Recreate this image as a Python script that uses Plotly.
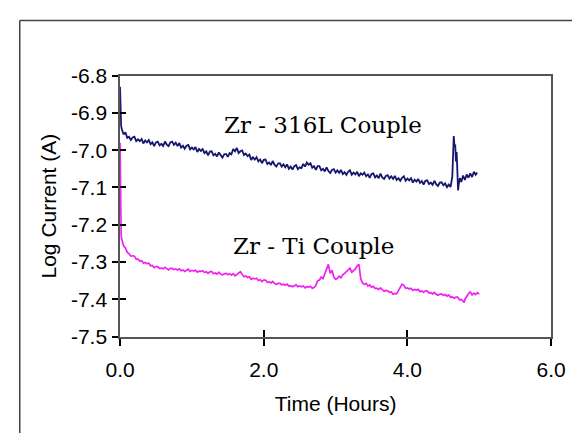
import plotly.graph_objects as go

# ---- data ----
t_316 = [0.0, 0.005, 0.01, 0.015,
         0.025, 0.05, 0.075, 0.1, 0.125, 0.15, 0.175, 0.2, 0.225, 0.25,
         0.275, 0.3, 0.325, 0.35, 0.375, 0.4, 0.425, 0.45, 0.475, 0.5,
         0.525, 0.55, 0.575, 0.6, 0.625, 0.65, 0.675, 0.7, 0.725, 0.75,
         0.775, 0.8, 0.825, 0.85, 0.875, 0.9, 0.925, 0.95, 0.975, 1.0,
         1.025, 1.05, 1.075, 1.1, 1.125, 1.15, 1.175, 1.2, 1.225, 1.25,
         1.275, 1.3, 1.325, 1.35, 1.375, 1.4, 1.425, 1.45, 1.475, 1.5,
         1.525, 1.55, 1.575, 1.6, 1.625, 1.65, 1.675, 1.7, 1.725, 1.75,
         1.775, 1.8, 1.825, 1.85, 1.875, 1.9, 1.925, 1.95, 1.975, 2.0,
         2.025, 2.05, 2.075, 2.1, 2.125, 2.15, 2.175, 2.2, 2.225, 2.25,
         2.275, 2.3, 2.325, 2.35, 2.375, 2.4, 2.425, 2.45, 2.475, 2.5,
         2.525, 2.55, 2.575, 2.6, 2.625, 2.65, 2.675, 2.7, 2.725, 2.75,
         2.775, 2.8, 2.825, 2.85, 2.875, 2.9, 2.925, 2.95, 2.975, 3.0,
         3.025, 3.05, 3.075, 3.1, 3.125, 3.15, 3.175, 3.2, 3.225, 3.25,
         3.275, 3.3, 3.325, 3.35, 3.375, 3.4, 3.425, 3.45, 3.475, 3.5,
         3.525, 3.55, 3.575, 3.6, 3.625, 3.65, 3.675, 3.7, 3.725, 3.75,
         3.775, 3.8, 3.825, 3.85, 3.875, 3.9, 3.925, 3.95, 3.975, 4.0,
         4.025, 4.05, 4.075, 4.1, 4.125, 4.15, 4.175, 4.2, 4.225, 4.25,
         4.275, 4.3, 4.325, 4.35, 4.375, 4.4, 4.425, 4.45, 4.475, 4.5,
         4.525, 4.55, 4.575, 4.6,
         4.615, 4.625, 4.645, 4.655, 4.665, 4.675, 4.685, 4.695, 4.705, 4.715, 4.73,
         4.75, 4.775, 4.8, 4.825, 4.85, 4.875, 4.9, 4.925, 4.95, 4.97]
i_316 = [-6.830, -6.880, -6.915, -6.935,
         -6.944, -6.958, -6.952, -6.967, -6.964, -6.973, -6.966, -6.964, -6.976, -6.971,
         -6.976, -6.970, -6.982, -6.974, -6.979, -6.973, -6.984, -6.979, -6.989, -6.979,
         -6.977, -6.987, -6.983, -6.989, -6.977, -6.985, -6.989, -6.979, -6.977, -6.986,
         -6.980, -6.989, -6.981, -6.993, -6.988, -6.996, -6.988, -6.986, -6.998, -6.993,
         -6.998, -6.992, -7.005, -6.997, -7.002, -6.997, -7.008, -7.003, -7.014, -7.004,
         -7.003, -7.014, -7.010, -7.017, -7.006, -7.015, -7.020, -7.011, -7.010, -7.018,
         -7.008, -7.011, -6.997, -7.003, -6.994, -7.008, -7.003, -7.001, -7.013, -7.009,
         -7.016, -7.012, -7.026, -7.019, -7.025, -7.019, -7.030, -7.025, -7.035, -7.026,
         -7.025, -7.037, -7.033, -7.040, -7.029, -7.039, -7.044, -7.036, -7.035, -7.044,
         -7.038, -7.046, -7.038, -7.050, -7.044, -7.052, -7.043, -7.040, -7.051, -7.046,
         -7.048, -7.037, -7.044, -7.033, -7.039, -7.035, -7.047, -7.043, -7.053, -7.043,
         -7.043, -7.054, -7.050, -7.057, -7.046, -7.056, -7.061, -7.053, -7.051, -7.060,
         -7.054, -7.061, -7.053, -7.064, -7.059, -7.066, -7.058, -7.054, -7.066, -7.060,
         -7.065, -7.058, -7.070, -7.062, -7.066, -7.060, -7.070, -7.065, -7.074, -7.064,
         -7.062, -7.073, -7.068, -7.075, -7.063, -7.073, -7.077, -7.069, -7.067, -7.076,
         -7.070, -7.077, -7.069, -7.080, -7.075, -7.082, -7.074, -7.070, -7.082, -7.076,
         -7.081, -7.075, -7.087, -7.079, -7.084, -7.077, -7.088, -7.083, -7.092, -7.082,
         -7.081, -7.091, -7.087, -7.093, -7.082, -7.091, -7.096, -7.087, -7.086, -7.094,
         -7.089, -7.099, -7.092, -7.099,
         -7.085, -7.070, -6.962, -6.990, -6.985, -7.030, -7.005, -7.060, -7.108, -7.090, -7.075,
         -7.085, -7.068, -7.080, -7.065, -7.074, -7.062, -7.072, -7.058, -7.066, -7.060]

t_ti = [0.0, 0.003, 0.006, 0.01, 0.015, 0.02,
        0.025, 0.05, 0.075, 0.1, 0.125, 0.15, 0.175, 0.2, 0.225, 0.25,
        0.275, 0.3, 0.325, 0.35, 0.375, 0.4, 0.425, 0.45, 0.475, 0.5,
        0.525, 0.55, 0.575, 0.6, 0.625, 0.65, 0.675, 0.7, 0.725, 0.75,
        0.775, 0.8, 0.825, 0.85, 0.875, 0.9, 0.925, 0.95, 0.975, 1.0,
        1.025, 1.05, 1.075, 1.1, 1.125, 1.15, 1.175, 1.2, 1.225, 1.25,
        1.275, 1.3, 1.325, 1.35, 1.375, 1.4, 1.425, 1.45, 1.475, 1.5,
        1.525, 1.55, 1.575, 1.6, 1.625, 1.65, 1.675, 1.7, 1.725, 1.75,
        1.775, 1.8, 1.825, 1.85, 1.875, 1.9, 1.925, 1.95, 1.975, 2.0,
        2.025, 2.05, 2.075, 2.1, 2.125, 2.15, 2.175, 2.2, 2.225, 2.25,
        2.275, 2.3, 2.325, 2.35, 2.375, 2.4, 2.425, 2.45, 2.475, 2.5,
        2.525, 2.55, 2.575, 2.6, 2.625, 2.65, 2.675, 2.7, 2.725, 2.75,
        2.775, 2.8, 2.825, 2.85, 2.875, 2.9, 2.925, 2.95, 2.975, 3.0,
        3.025, 3.05, 3.075, 3.1, 3.125, 3.15, 3.175, 3.2, 3.225, 3.25,
        3.275, 3.3, 3.325, 3.35, 3.375, 3.4, 3.425, 3.45, 3.475, 3.5,
        3.525, 3.55, 3.575, 3.6, 3.625, 3.65, 3.675, 3.7, 3.725, 3.75,
        3.775, 3.8, 3.825, 3.85, 3.875, 3.9, 3.925, 3.95, 3.975, 4.0,
        4.025, 4.05, 4.075, 4.1, 4.125, 4.15, 4.175, 4.2, 4.225, 4.25,
        4.275, 4.3, 4.325, 4.35, 4.375, 4.4, 4.425, 4.45, 4.475, 4.5,
        4.525, 4.55, 4.575, 4.6, 4.625, 4.65, 4.675, 4.7, 4.725, 4.75,
        4.775, 4.79, 4.8, 4.825, 4.85, 4.875, 4.9, 4.925, 4.95, 4.975, 5.0]
i_ti = [-6.980, -7.080, -7.150, -7.200, -7.225, -7.236,
        -7.241, -7.257, -7.262, -7.274, -7.277, -7.284, -7.283, -7.284, -7.292, -7.292,
        -7.297, -7.296, -7.303, -7.301, -7.304, -7.303, -7.310, -7.309, -7.315, -7.312,
        -7.312, -7.317, -7.316, -7.318, -7.314, -7.318, -7.321, -7.317, -7.317, -7.320,
        -7.318, -7.321, -7.318, -7.323, -7.321, -7.325, -7.321, -7.319, -7.325, -7.322,
        -7.324, -7.322, -7.327, -7.324, -7.325, -7.323, -7.328, -7.326, -7.330, -7.326,
        -7.325, -7.331, -7.329, -7.332, -7.327, -7.332, -7.334, -7.331, -7.330, -7.334,
        -7.331, -7.335, -7.331, -7.337, -7.333, -7.330, -7.326, -7.333, -7.339, -7.337,
        -7.341, -7.339, -7.346, -7.343, -7.345, -7.343, -7.349, -7.347, -7.352, -7.348,
        -7.348, -7.354, -7.353, -7.356, -7.352, -7.357, -7.360, -7.357, -7.357, -7.361,
        -7.359, -7.362, -7.359, -7.364, -7.363, -7.366, -7.363, -7.361, -7.366, -7.364,
        -7.366, -7.364, -7.369, -7.366, -7.367, -7.365, -7.370, -7.368, -7.363, -7.350,
        -7.348, -7.340, -7.344, -7.332, -7.315, -7.306, -7.330, -7.322, -7.340, -7.346,
        -7.344, -7.338, -7.342, -7.334, -7.330, -7.326, -7.320, -7.316, -7.327, -7.322,
        -7.318, -7.310, -7.306, -7.345, -7.356, -7.360, -7.357, -7.364, -7.361, -7.367,
        -7.365, -7.371, -7.370, -7.373, -7.369, -7.374, -7.378, -7.376, -7.377, -7.381,
        -7.380, -7.386, -7.384, -7.385, -7.375, -7.369, -7.359, -7.362, -7.370, -7.369,
        -7.372, -7.370, -7.376, -7.373, -7.375, -7.373, -7.379, -7.377, -7.381, -7.377,
        -7.377, -7.383, -7.382, -7.385, -7.381, -7.386, -7.389, -7.386, -7.385, -7.389,
        -7.387, -7.391, -7.388, -7.394, -7.393, -7.397, -7.394, -7.394, -7.401, -7.400,
        -7.404, -7.408, -7.400, -7.392, -7.384, -7.380, -7.388, -7.383, -7.387, -7.382, -7.386]

labels = ["Zr - 316L Couple", "Zr - Ti Couple"]
label_x = [2.83, 2.69]
label_y = [-6.932, -7.256]

x_ticks = [0.0, 2.0, 4.0, 6.0]
x_ticktext = ["0.0", "2.0", "4.0", "6.0"]
y_ticks = [-6.8, -6.9, -7.0, -7.1, -7.2, -7.3, -7.4, -7.5]
y_ticktext = ["-6.8", "-6.9", "-7.0", "-7.1", "-7.2", "-7.3", "-7.4", "-7.5"]

W, H = 587, 444
AX = "#555555"

fig = go.Figure()
fig.add_trace(go.Scatter(x=t_316, y=i_316, mode="lines",
                         line=dict(color="#16166e", width=1.8), showlegend=False))
fig.add_trace(go.Scatter(x=t_ti, y=i_ti, mode="lines",
                         line=dict(color="#f020f0", width=1.7), showlegend=False))
# invisible trace so the overlay axes (inner halves of the crossing ticks) render
fig.add_trace(go.Scatter(x=[0], y=[-7.5], xaxis="x2", yaxis="y2", mode="markers",
                         marker=dict(opacity=0), hoverinfo="skip", showlegend=False))

for txt, lx, ly in zip(labels, label_x, label_y):
    fig.add_annotation(x=lx, y=ly, text=txt, showarrow=False,
                       font=dict(family="DejaVu Serif", size=23, color="black"),
                       xanchor="center", yanchor="middle")

xdom = [110.7 / W, 565 / W]
ydom = [(H - 342.5) / H, (H - 67) / H]
tickfont = dict(family="Liberation Sans, Arial", size=21, color="black")

fig.update_layout(
    width=W, height=H, margin=dict(l=0, r=0, t=0, b=0),
    paper_bgcolor="white", plot_bgcolor="white",
    xaxis=dict(domain=xdom, range=[0, 6], tickvals=x_ticks, ticktext=x_ticktext,
               ticks="outside", ticklen=7, tickcolor="black", tickwidth=1.5,
               showline=True, linecolor=AX, linewidth=1.5, mirror=True,
               showgrid=False, zeroline=False, tickfont=tickfont,
               ticklabelstandoff=6,
               title=dict(text="Time (Hours)", font=tickfont, standoff=17)),
    yaxis=dict(domain=ydom, range=[-7.5, -6.8], tickvals=y_ticks, ticktext=y_ticktext,
               ticks="outside", ticklen=6, tickcolor="black", tickwidth=1.5,
               showline=True, linecolor=AX, linewidth=1.5, mirror=True,
               showgrid=False, zeroline=False, tickfont=tickfont,
               ticklabelstandoff=1,
               title=dict(text="Log Current (A)", font=tickfont, standoff=9)),
    xaxis2=dict(overlaying="x", anchor="y", range=[0, 6], tickvals=x_ticks,
                ticks="inside", ticklen=7, tickcolor="black", tickwidth=1.5,
                showticklabels=False, showline=False, showgrid=False, zeroline=False),
    yaxis2=dict(overlaying="y", anchor="x", side="left", range=[-7.5, -6.8], tickvals=y_ticks,
                ticks="inside", ticklen=6, tickcolor="black", tickwidth=1.5,
                showticklabels=False, showline=False, showgrid=False, zeroline=False),
    shapes=[
        dict(type="line", xref="paper", yref="paper", x0=5 / W, x1=1, y0=(H - 9) / H, y1=(H - 9) / H,
             line=dict(color="#444444", width=1.5)),
        dict(type="line", xref="paper", yref="paper", x0=5 / W, x1=5 / W, y0=0, y1=(H - 9) / H,
             line=dict(color="#444444", width=1.5)),
    ],
)

fig.write_html("out.html",
               post_script="document.body.style.margin='0';document.body.style.overflow='hidden';")
